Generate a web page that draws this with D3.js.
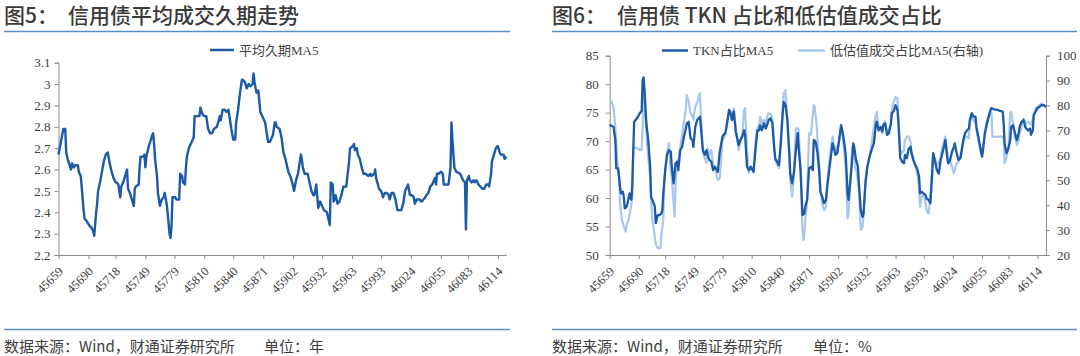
<!DOCTYPE html>
<html><head><meta charset="utf-8">
<script src="https://cdn.jsdelivr.net/npm/d3@7/dist/d3.min.js"></script>
<style>body{margin:0;background:#fff}svg{display:block}</style>
</head><body>
<svg id="c" width="1080" height="356"></svg>
<script>
// ---------- DATA ----------
const xTickValues = [45659,45690,45718,45749,45779,45810,45840,45871,45902,45932,45963,45993,46024,46055,46083,46114];
const durTicks = [2.2,2.3,2.4,2.5,2.6,2.7,2.8,2.9,3.0,3.1];
const tknTicks = [50,55,60,65,70,75,80,85];
const lowTicks = [20,30,40,50,60,70,80,90,100];

// 平均久期MA5
const durDates = [45659,45664,45666,45667,45669,45672,45673,45675,45676,45679,45680,45682,45683,45685,45686,45688,45692,45693,45695,45696,45698,45699,45700,45702,45704,45706,45708,45710,45712,45714,45716,45718,45719,45721,45723,45724,45726,45728,45730,45731,45733,45735,45737,45738,45739,45742,45743,45744,45747,45748,45749,45750,45752,45754,45756,45757,45758,45759,45761,45762,45764,45766,45768,45769,45771,45772,45774,45775,45776,45777,45780,45781,45784,45785,45787,45788,45790,45791,45792,45794,45797,45799,45800,45802,45805,45806,45808,45810,45812,45814,45816,45818,45820,45823,45825,45826,45827,45829,45831,45833,45835,45837,45838,45840,45842,45843,45845,45847,45849,45850,45852,45854,45856,45858,45860,45861,45862,45864,45866,45868,45873,45876,45878,45881,45883,45884,45885,45888,45890,45892,45894,45897,45899,45901,45903,45905,45907,45908,45910,45911,45912,45914,45917,45919,45921,45923,45924,45926,45928,45930,45931,45934,45937,45938,45940,45941,45943,45944,45946,45948,45950,45952,45954,45957,45958,45960,45961,45964,45965,45966,45968,45969,45971,45973,45975,45977,45980,45982,45983,45986,45987,45988,45991,45993,45994,45995,45997,45999,46001,46002,46004,46006,46008,46010,46012,46014,46016,46018,46020,46021,46023,46025,46027,46028,46030,46032,46033,46035,46037,46039,46040,46042,46044,46046,46047,46049,46050,46051,46053,46055,46057,46058,46060,46063,46065,46066,46067,46069,46071,46075,46078,46080,46081,46082,46084,46085,46087,46089,46090,46092,46094,46096,46098,46100,46102,46104,46105,46107,46108,46110,46112,46114,46116,46117,46120,46121,46123];
const durValues = [2.67,2.79,2.79,2.68,2.64,2.60,2.63,2.61,2.62,2.62,2.59,2.57,2.52,2.41,2.37,2.36,2.33,2.33,2.31,2.29,2.40,2.44,2.50,2.54,2.59,2.64,2.67,2.68,2.63,2.59,2.56,2.54,2.54,2.53,2.47,2.52,2.54,2.57,2.60,2.51,2.49,2.46,2.43,2.51,2.52,2.53,2.61,2.66,2.66,2.67,2.61,2.66,2.70,2.73,2.76,2.77,2.72,2.65,2.57,2.49,2.43,2.46,2.47,2.49,2.44,2.40,2.30,2.28,2.33,2.47,2.47,2.46,2.46,2.58,2.57,2.54,2.53,2.61,2.66,2.70,2.73,2.75,2.85,2.85,2.85,2.89,2.86,2.85,2.85,2.79,2.77,2.77,2.79,2.80,2.83,2.85,2.83,2.88,2.88,2.87,2.88,2.82,2.79,2.74,2.74,2.82,2.88,2.96,3.02,3.02,3.01,2.98,3.00,2.99,3.00,3.05,3.01,2.96,2.97,2.87,2.82,2.73,2.73,2.76,2.82,2.82,2.80,2.79,2.75,2.68,2.65,2.59,2.57,2.54,2.50,2.55,2.58,2.61,2.67,2.65,2.61,2.58,2.58,2.54,2.50,2.48,2.48,2.53,2.42,2.45,2.44,2.41,2.40,2.38,2.34,2.54,2.53,2.45,2.48,2.44,2.45,2.48,2.52,2.52,2.56,2.64,2.70,2.71,2.72,2.69,2.70,2.67,2.65,2.61,2.58,2.58,2.57,2.58,2.57,2.58,2.60,2.56,2.51,2.50,2.49,2.47,2.49,2.49,2.48,2.46,2.49,2.49,2.46,2.41,2.41,2.41,2.44,2.50,2.52,2.53,2.48,2.48,2.47,2.44,2.46,2.46,2.46,2.45,2.46,2.47,2.48,2.49,2.52,2.53,2.54,2.56,2.53,2.58,2.58,2.59,2.58,2.53,2.53,2.53,2.61,2.82,2.74,2.61,2.59,2.58,2.55,2.54,2.32,2.55,2.57,2.55,2.54,2.55,2.54,2.55,2.53,2.52,2.51,2.51,2.53,2.53,2.52,2.58,2.64,2.67,2.70,2.71,2.68,2.67,2.67,2.65,2.66];

// TKN占比MA5 (left axis)
const tknDates = [45659,45660,45663,45665,45666,45668,45670,45671,45673,45674,45675,45677,45678,45680,45682,45683,45685,45688,45691,45693,45694,45695,45696,45698,45700,45702,45703,45705,45707,45708,45710,45712,45714,45715,45716,45718,45720,45722,45724,45725,45727,45729,45731,45732,45734,45736,45738,45740,45741,45743,45745,45747,45748,45750,45752,45755,45756,45758,45760,45762,45763,45765,45767,45769,45771,45773,45774,45776,45779,45780,45782,45784,45786,45788,45789,45791,45793,45795,45796,45798,45800,45802,45803,45805,45807,45809,45811,45812,45814,45816,45818,45819,45821,45823,45825,45827,45828,45830,45832,45834,45835,45837,45839,45841,45843,45844,45846,45848,45850,45851,45853,45855,45857,45859,45860,45862,45864,45866,45867,45869,45871,45873,45875,45876,45878,45880,45882,45883,45885,45887,45889,45890,45892,45894,45896,45898,45899,45901,45903,45905,45906,45908,45910,45912,45913,45915,45917,45918,45919,45921,45923,45924,45926,45928,45929,45931,45933,45935,45936,45938,45940,45942,45943,45945,45947,45949,45950,45952,45954,45956,45958,45959,45961,45963,45965,45966,45968,45970,45972,45973,45975,45977,45979,45980,45982,45984,45986,45988,45989,45991,45993,45995,45996,45998,46000,46002,46003,46005,46007,46009,46011,46012,46014,46016,46018,46019,46021,46023,46025,46026,46028,46030,46032,46033,46035,46037,46039,46041,46042,46044,46046,46048,46049,46051,46053,46055,46056,46058,46060,46062,46064,46065,46067,46071,46074,46077,46078,46079,46081,46083,46085,46086,46088,46090,46092,46094,46095,46097,46099,46101,46102,46104,46106,46107,46109,46110,46112,46114,46116,46118,46121,46123];
const tknValues = [72.6,72.8,72.5,70.2,65.2,65.2,62.0,60.8,61.1,60.2,58.2,58.5,59.1,60.8,59.7,62.3,73.4,74.0,74.9,75.3,80.7,81.2,79.0,73.1,70.2,65.5,60.2,59.4,58.5,55.6,57.0,57.0,57.3,57.9,60.8,64.9,67.6,68.4,68.1,65.5,62.6,66.1,66.4,64.9,68.4,69.0,70.8,72.2,73.1,73.4,70.5,70.2,69.0,72.5,73.7,74.3,72.5,68.4,67.6,68.4,67.6,66.7,66.4,64.9,65.5,64.9,64.6,68.1,70.8,71.1,71.4,73.4,75.5,74.6,73.7,75.2,71.7,70.2,69.3,70.2,70.8,71.9,71.1,65.5,64.9,65.5,64.9,64.6,68.4,71.9,71.9,72.8,71.9,73.1,72.2,73.1,73.7,74.0,73.1,68.7,67.0,66.4,65.8,69.6,74.9,76.9,76.3,73.7,67.9,64.3,62.6,64.6,68.4,71.4,68.7,64.9,57.0,57.3,58.5,59.7,65.2,65.5,64.9,70.2,69.9,67.9,64.3,61.1,60.2,59.1,59.7,61.4,64.3,67.0,69.6,68.4,67.6,67.9,70.2,72.8,72.2,70.2,67.6,60.8,59.7,63.2,67.0,69.6,69.0,66.7,65.5,62.6,57.9,56.7,57.3,62.6,65.5,67.0,67.6,68.7,69.6,72.8,73.4,71.9,72.5,71.7,72.8,73.1,71.1,71.4,73.1,74.9,75.2,76.3,75.5,73.4,67.0,66.4,66.1,67.6,67.0,68.7,69.0,67.9,66.7,65.8,65.2,63.8,60.8,61.1,60.8,60.5,59.9,59.7,59.1,64.3,67.9,66.4,64.9,64.3,66.7,67.3,68.7,70.2,67.0,66.1,66.7,68.1,69.0,69.6,67.9,66.7,67.0,67.9,70.2,71.4,71.9,72.2,73.7,74.9,74.3,74.3,72.5,70.8,69.0,67.3,68.4,71.4,73.1,74.3,75.5,75.8,75.6,75.5,75.3,75.2,73.1,69.6,67.9,68.7,70.2,72.5,72.8,71.4,70.2,71.4,72.5,73.4,73.7,72.5,72.2,71.9,72.2,71.1,71.9,74.6,75.2,75.8,76.0,76.3,76.3,76.0];

// 低估值成交占比MA5 (right axis)
const lowDates = [45659,45661,45663,45665,45667,45669,45670,45672,45674,45676,45677,45679,45681,45683,45684,45685,45692,45693,45695,45696,45697,45699,45702,45704,45706,45708,45709,45711,45713,45714,45716,45717,45719,45721,45722,45724,45726,45728,45729,45731,45732,45734,45736,45738,45740,45741,45743,45745,45747,45748,45750,45752,45754,45755,45756,45758,45760,45762,45763,45765,45767,45769,45771,45773,45774,45776,45779,45780,45782,45784,45786,45788,45789,45791,45793,45795,45796,45798,45800,45802,45803,45805,45807,45809,45811,45812,45814,45816,45818,45819,45821,45823,45825,45827,45828,45830,45832,45834,45835,45837,45839,45841,45843,45844,45846,45848,45850,45851,45853,45855,45857,45859,45860,45862,45864,45865,45866,45867,45869,45871,45873,45876,45877,45879,45882,45883,45885,45887,45889,45890,45892,45894,45896,45898,45899,45901,45903,45905,45906,45908,45910,45912,45913,45915,45917,45919,45920,45922,45924,45926,45928,45929,45931,45933,45935,45936,45938,45940,45942,45943,45945,45947,45949,45950,45952,45954,45956,45958,45959,45961,45963,45965,45966,45968,45970,45972,45973,45975,45977,45979,45980,45982,45984,45986,45988,45989,45991,45993,45995,45996,45998,46000,46002,46003,46005,46007,46009,46011,46012,46014,46016,46018,46019,46021,46023,46025,46026,46028,46030,46032,46033,46035,46037,46039,46041,46042,46044,46046,46048,46049,46051,46053,46055,46056,46058,46060,46062,46064,46065,46066,46068,46074,46077,46078,46079,46081,46083,46085,46086,46088,46090,46092,46094,46095,46097,46099,46101,46102,46104,46106,46107,46109,46111,46112,46116,46118,46121,46123];
const lowValues = [82.2,81.5,79.5,71.5,58.1,50.1,40.7,34.0,31.4,29.4,32.0,34.0,38.0,42.7,63.5,63.2,62.1,62.1,80.0,86.9,75.5,63.5,51.4,35.4,30.0,24.7,23.3,22.7,22.7,28.7,34.0,48.8,58.1,63.5,64.8,54.1,46.1,35.4,47.4,58.1,57.5,63.5,68.2,73.5,78.9,84.2,81.5,76.9,75.5,74.2,79.5,80.9,84.2,84.9,75.5,63.5,58.8,56.8,62.8,60.1,62.1,56.1,55.4,51.4,50.1,50.8,66.1,66.8,68.2,72.8,78.2,77.5,74.8,78.9,70.8,66.1,62.1,64.8,68.8,78.2,78.9,62.1,52.8,55.4,54.1,54.8,64.8,70.8,72.2,75.5,72.8,74.2,72.8,76.2,76.9,76.6,74.8,63.5,58.1,56.1,54.8,67.5,78.9,84.9,86.2,72.8,60.1,50.1,43.4,52.8,70.8,70.8,70.2,54.1,30.0,26.0,28.7,34.0,42.1,68.8,68.2,80.2,79.5,72.8,55.4,47.4,40.7,38.0,39.4,47.4,55.4,62.1,67.5,62.1,63.5,60.8,66.1,70.8,69.5,63.5,55.4,34.7,36.7,48.8,63.5,62.1,55.4,52.8,46.1,30.0,31.4,36.7,50.1,55.4,58.8,60.8,66.1,71.5,76.2,77.5,70.2,70.2,68.8,72.8,73.5,68.8,70.2,72.8,78.2,81.5,83.5,82.9,75.5,62.1,60.8,62.1,66.1,67.5,67.5,65.5,60.8,58.1,55.4,52.8,47.4,39.4,43.4,44.7,40.7,38.0,36.7,42.1,56.8,58.8,58.8,56.1,56.8,59.5,62.1,64.8,67.5,60.8,59.5,58.1,55.4,52.8,54.1,56.8,57.5,59.5,62.1,64.8,67.5,67.5,66.8,72.8,75.5,74.2,72.8,70.2,66.1,62.1,59.5,63.5,68.8,71.5,75.5,77.5,76.9,67.5,67.5,67.5,67.5,66.1,56.8,59.5,63.5,76.9,77.5,72.8,67.5,64.1,66.1,68.8,71.5,74.8,73.5,72.8,73.5,72.8,72.2,74.8,77.5,78.9,80.2,80.9,80.2,78.9];

// ---------- DRAW ----------
const svg = d3.select("#c");
const darkBlue = "#1c5aa6", lightBlue = "#a7c7ec", axisCol = "#8c8c8c", txtCol = "#404040", ruleCol = "#5b8cc2";
const cjk = "'Noto Sans CJK SC','Noto Sans',sans-serif";
const serif = "'Liberation Serif','Noto Sans CJK SC',serif";

function header(x0, x1, label, title, titleX) {
  const t = svg.append("text").attr("x", x0).attr("y", 23).attr("fill", "#3a3a3a")
    .style("font-family", cjk).style("font-size", "21px").style("font-weight", 500);
  t.append("tspan").text(label);
  t.append("tspan").attr("x", titleX).text(title);
  svg.append("line").attr("x1", x0).attr("x2", x1).attr("y1", 31.5).attr("y2", 31.5)
    .attr("stroke", ruleCol).attr("stroke-width", 1.5);
  svg.append("line").attr("x1", x0).attr("x2", x1).attr("y1", 329.5).attr("y2", 329.5)
    .attr("stroke", ruleCol).attr("stroke-width", 1.5);
}
function footer(x0, unitX, unit) {
  const t = svg.append("text").attr("x", x0).attr("y", 352).attr("fill", txtCol)
    .style("font-family", cjk).style("font-size", "15px");
  t.append("tspan").text("数据来源：Wind，财通证券研究所");
  t.append("tspan").attr("x", unitX).text("单位：" + unit);
}
function styleAxis(g) {
  g.selectAll("path,line").attr("stroke", axisCol);
  g.selectAll("text").attr("fill", txtCol).style("font-family", serif).style("font-size", "13px");
}
function xAxis(x, yPos) {
  const g = svg.append("g").attr("transform", `translate(0,${yPos})`)
    .call(d3.axisBottom(x).tickValues(xTickValues).tickSize(4).tickSizeOuter(0).tickFormat(d3.format("d")));
  styleAxis(g);
  g.selectAll("text").attr("y", null).attr("dy", null).style("font-size", "12.5px")
    .attr("transform", "translate(5,17) rotate(-45)").style("text-anchor", "end");
}
function legendItem(x, y, len, color, label) {
  svg.append("line").attr("x1", x).attr("x2", x + len).attr("y1", y).attr("y2", y)
    .attr("stroke", color).attr("stroke-width", 2.5);
  svg.append("text").attr("x", x + len + 5).attr("y", y + 4.5).attr("fill", txtCol)
    .style("font-family", serif).style("font-size", "13px").text(label);
}

// Left chart
header(4, 510, "图5：", "信用债平均成交久期走势", 68);
footer(4, 264, "年");
const x1 = d3.scaleLinear().domain([45659, 46123]).range([58.5, 506.5]);
const y1 = d3.scaleLinear().domain([2.2, 3.1]).range([255, 62.7]);
const gy1 = svg.append("g").attr("transform", "translate(58.5,0)")
  .call(d3.axisLeft(y1).tickValues(durTicks).tickSize(4).tickPadding(4).tickFormat(d3.format("~g")));
styleAxis(gy1);
xAxis(x1, 255);
svg.append("path").datum(durDates.map((d, i) => [d, durValues[i]]))
  .attr("fill", "none").attr("stroke", darkBlue).attr("stroke-width", 2.4).attr("stroke-linejoin", "round")
  .attr("d", d3.line().x(d => x1(d[0])).y(d => y1(d[1])));
legendItem(210, 50, 24, darkBlue, "平均久期MA5");

// Right chart
header(552, 1077, "图6：", "信用债 TKN 占比和低估值成交占比", 617);
footer(552, 813, "%");
const x2 = d3.scaleLinear().domain([45659, 46123]).range([609.7, 1046]);
const y2L = d3.scaleLinear().domain([50, 85]).range([255, 55.7]);
const y2R = d3.scaleLinear().domain([20, 100]).range([255, 55.7]);
const gy2 = svg.append("g").attr("transform", "translate(609.7,0)")
  .call(d3.axisLeft(y2L).tickValues(tknTicks).tickSize(4).tickPadding(7));
styleAxis(gy2);
const gy3 = svg.append("g").attr("transform", "translate(1046,0)")
  .call(d3.axisRight(y2R).tickValues(lowTicks).tickSize(4).tickPadding(7));
styleAxis(gy3);
xAxis(x2, 255);
svg.append("path").datum(lowDates.map((d, i) => [d, lowValues[i]]))
  .attr("fill", "none").attr("stroke", lightBlue).attr("stroke-width", 2.2).attr("stroke-linejoin", "round")
  .attr("d", d3.line().x(d => x2(d[0])).y(d => y2R(d[1])));
svg.append("path").datum(tknDates.map((d, i) => [d, tknValues[i]]))
  .attr("fill", "none").attr("stroke", darkBlue).attr("stroke-width", 2.3).attr("stroke-linejoin", "round")
  .attr("d", d3.line().x(d => x2(d[0])).y(d => y2L(d[1])));
legendItem(662, 50.5, 26, darkBlue, "TKN占比MA5");
legendItem(798, 50.5, 27, lightBlue, "低估值成交占比MA5(右轴)");
</script>
</body></html>
